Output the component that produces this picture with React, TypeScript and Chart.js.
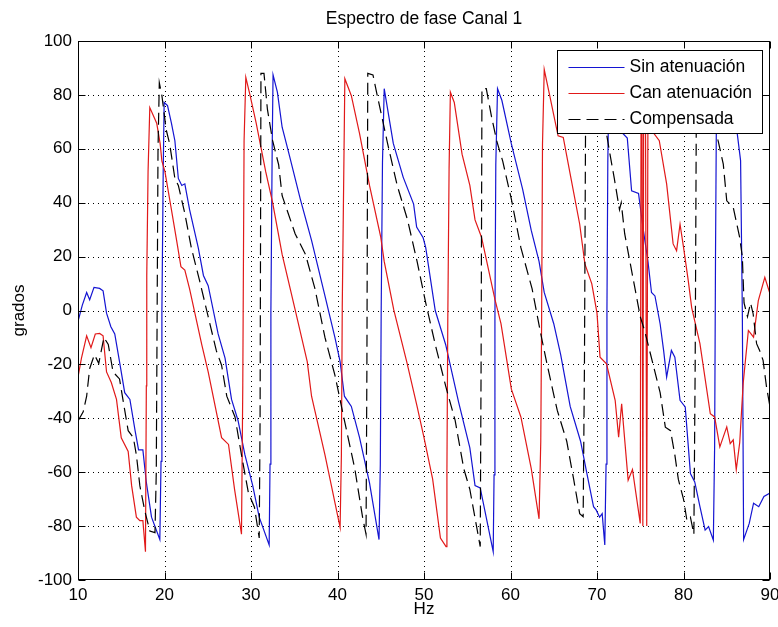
import { useEffect, useRef } from "react";
import { Chart, registerables } from "chart.js";

Chart.register(...registerables);

// ---- data (Hz, grados) ----
const titleText = "Espectro de fase Canal 1";
const xLabel = "Hz";
const yLabel = "grados";
const seriesNames = ["Sin atenuación", "Can atenuación", "Compensada"];

const xTickValues = [10, 20, 30, 40, 50, 60, 70, 80, 90];
const yTickValues = [-100, -80, -60, -40, -20, 0, 20, 40, 60, 80, 100];

const sinHz = [10, 10.5, 11, 11.35, 11.85, 12.5, 12.9, 13.3, 13.8, 14.25, 14.8, 15.4, 16, 16.6, 17, 17.5, 17.9, 18.5, 19.46, 19.6, 19.7, 19.85, 19.96, 20.35, 20.8, 21.2, 21.6, 22, 22.35, 22.9, 23.9, 24.5, 25.05, 26.2, 27, 27.75, 28.5, 29.3, 30.2, 30.95, 32.1, 32.2, 32.3, 32.45, 32.55, 33.05, 33.6, 34.4, 35.7, 37, 38.55, 39.7, 40.3, 40.8, 41.6, 42.55, 43.7, 44.8, 44.95, 45.05, 45.2, 45.4, 46.45, 47.6, 48.8, 49.15, 49.9, 50.2, 51.3, 52.5, 54, 55.3, 55.9, 56.5, 58, 58.1, 58.2, 58.3, 58.5, 59, 60.1, 61.4, 62.4, 63.3, 63.9, 65, 65.8, 66.9, 68.1, 68.8, 69.6, 69.9, 70.3, 70.6, 70.9, 71.05, 71.15, 71.25, 71.4, 72.2, 72.9, 73.5, 74, 74.8, 75.35, 75.9, 76.3, 76.7, 77.3, 77.7, 78.05, 78.6, 79, 79.6, 80.2, 80.8, 81.3, 81.9, 82.5, 82.9, 83.45, 83.6, 83.7, 83.8, 84, 85, 86.2, 86.6, 86.8, 86.95, 87.6, 88.1, 88.7, 89.3, 90];
const sinDeg = [-4, 2, 6.7, 4, 8.6, 8.2, 7.3, -1, -6, -8.7, -19, -30.5, -33, -44.6, -51.7, -51.7, -63.8, -76.7, -85, -56, 0, 51.5, 77.2, 76, 69.5, 63, 49, 46.4, 47, 37.4, 23.3, 13, 9.2, -8.7, -17.7, -33, -40.8, -53.6, -65, -76.7, -87, -57, 0, 60.5, 87.4, 81, 68, 58, 41.3, 26, 5.4, -10, -19, -31.8, -35.6, -47.2, -64, -85, -57, 0, 55, 82.3, 62, 49.4, 39.5, 31, 27, 23.3, 0, -12.6, -34, -51, -65, -65.8, -89.5, -61, -3.6, 54, 82.3, 78, 61.8, 45, 29.7, 18.2, 6.7, -4.9, -16.4, -35.6, -48.5, -60, -72.8, -74, -76.7, -75.4, -87, -57, 0, 55, 88, 78, 66, 64, 44.4, 43.4, 30, 18, 6.7, 5.4, -5, -14.8, -24.7, -14.8, -17.3, -33.3, -35.8, -60.5, -63.6, -72.8, -81.5, -80.2, -85.2, -50, 20, 70, 86, 78, 66, 55.6, 0, -85, -79, -71.5, -72.8, -69, -67.7];

const canHz = [10, 10.4, 11, 11.5, 12, 12.5, 12.9, 13.3, 13.85, 14.45, 15, 15.8, 16.2, 16.75, 17.15, 17.5, 17.8, 17.9, 17.95, 18.1, 18.3, 19.1, 19.5, 19.7, 20.05, 20.8, 21.4, 21.9, 22.35, 22.9, 24.3, 25.05, 26.6, 27.4, 28.1, 28.9, 29.05, 29.2, 29.4, 29.9, 30.6, 31.7, 32.5, 33.6, 35.1, 36.5, 37, 38.55, 40.3, 40.45, 40.55, 40.85, 41.6, 42.55, 43.7, 45, 45.4, 46.5, 48, 49.2, 50, 51, 51.9, 52.55, 52.65, 52.75, 52.9, 53.05, 53.5, 54.4, 55.3, 55.9, 56.65, 58.2, 58.9, 60.1, 61.2, 62.4, 63.3, 63.5, 63.6, 63.7, 63.9, 64.45, 65.5, 66.1, 66.9, 68, 68.6, 69.4, 70, 70.35, 71.1, 72.1, 72.5, 72.85, 73.6, 74.1, 75, 75.1, 75.2, 75.3, 75.4, 75.6, 75.75, 75.9, 76.5, 77.2, 78.05, 78.8, 79.2, 79.6, 80, 80.55, 80.95, 81.9, 83.1, 83.6, 84.2, 85, 85.4, 85.75, 86.1, 86.5, 86.9, 87.5, 88.1, 88.65, 89.4, 90];
const canDeg = [-24.7, -17.7, -9.4, -13.8, -8.7, -8.5, -9.4, -22.8, -26.7, -33, -47.2, -52.3, -65, -76.7, -78, -78, -89.5, -28, 13, 51.5, 75.3, 69.5, 61.8, 55.4, 51.5, 37.4, 26, 16.3, 15, 8, -12.6, -22.8, -47.2, -49.7, -66.4, -83, -28, 63, 86.5, 79.7, 69.5, 51.5, 40, 20.8, 0.3, -19, -31.8, -53.6, -80.5, -53.6, 1.5, 86, 79.7, 65.6, 46.4, 27.2, 18.2, 0.3, -19, -35.6, -47.2, -62.6, -84.4, -87.6, -60, -3.6, 52.8, 81, 77.2, 58, 46.4, 33.6, 27.2, 4.1, -4.9, -29.2, -39.5, -58.7, -77.3, -48.5, -2.3, 61.8, 89.4, 81, 64.8, 64.2, 50.6, 32, 17.3, 9.9, -1, -17.3, -19.8, -33.3, -47, -34.6, -63, -59, -79, 85, 83, -80, 84, 80, -80, 86, 66, 63, 47, 24.7, 22.2, 32, 23.5, 11.1, 1, -12.3, -38.3, -39.5, -50.6, -43.2, -49.4, -48, -59, -49, -27, -7.4, -9.9, 3.7, 12.3, 6.2];

const compHz = [10, 10.6, 11, 11.35, 11.9, 12.4, 13, 13.5, 14.05, 14.8, 15.4, 15.8, 16.4, 16.75, 17.15, 17.7, 18.3, 18.9, 19.05, 19.15, 19.25, 19.4, 19.7, 20.2, 20.6, 21.2, 21.6, 22.35, 23.1, 24.1, 25.05, 26, 26.6, 27.2, 28.15, 28.9, 29.7, 30.4, 30.95, 31.05, 31.15, 31.5, 31.9, 32.5, 33.2, 33.6, 35.1, 36.3, 37.4, 38.55, 39.7, 40.8, 42, 42.9, 43.3, 43.4, 43.5, 44.1, 44.6, 45.2, 45.8, 46.9, 48.1, 49.2, 50.2, 51.3, 52.5, 53.6, 54.6, 55.3, 56.5, 56.6, 56.7, 57.2, 57.8, 58.4, 59.1, 60.1, 61.2, 62.5, 63.5, 64.25, 65.4, 66.5, 67.3, 68, 68.4, 68.55, 68.7, 70, 70.9, 71.1, 71.5, 72, 72.6, 72.8, 73.2, 73.8, 74.4, 75, 75.5, 76.1, 76.7, 77.3, 77.9, 78.5, 79, 79.4, 80, 80.4, 80.8, 81.2, 81.35, 81.5, 82.5, 83.5, 84, 84.6, 85, 85.75, 86.5, 86.8, 87, 87.4, 87.75, 88.05, 88.45, 88.8, 89.2, 89.6, 90];
const compDeg = [-41, -37.6, -31.8, -21.5, -16.4, -19.6, -10, -12.6, -22.8, -25.4, -37, -44.6, -47.2, -53.6, -65, -74, -81.8, -82.4, -60, 0, 60, 84.5, 79.7, 67, 61.8, 49, 46.4, 36, 23.3, 10.5, -2.3, -15, -20.3, -31.8, -39.5, -53.6, -67.7, -73, -84.4, -40, 88, 88, 74.6, 63, 54, 42.6, 28.5, 20.8, 8, -10, -24, -40.8, -58.7, -76.7, -83, -20, 88, 87.4, 79.7, 70.8, 61.8, 46.4, 33.6, 18.2, 2.8, -12.6, -28, -40.8, -58.7, -66.4, -87.6, -20, 82.3, 82.3, 72, 63, 55.4, 41.3, 23.3, 8, -8.7, -20.3, -37, -48.5, -62.6, -75.4, -76.5, -20, 85, 80, 70, 65.6, 58, 49, 37.4, 40, 28.5, 18.2, 8, -2.3, -7.4, -15.1, -22.8, -30.5, -43.3, -44.6, -53.6, -62.6, -70, -78, -76.7, -83, -20, 86, 84, 72, 63, 54.3, 40.7, 38.3, 27, 20, 2.8, -2.3, 2.8, -1.2, -12.3, -14.8, -18.5, -28.4, -35.8];

// ---- styling ----
const FONT = '"Liberation Sans", Arial, Helvetica, sans-serif';
const BLUE = "rgb(20,20,210)";
const RED = "rgb(225,25,25)";
const BLACK = "#000";
const DASH = [12, 6];
const LINE_W = 1.2;

const toPoints = (xs: number[], ys: number[]) => xs.map((x, i) => ({ x, y: ys[i] }));

const matlabPlugin = {
  id: "matlabAxes",
  beforeDatasetsDraw(chart: any) {
    const { ctx, chartArea: a, scales } = chart;
    const xs = scales.x;
    const ys = scales.y;
    ctx.save();
    ctx.strokeStyle = "#000";
    ctx.lineWidth = 1;
    ctx.setLineDash([1, 4]);
    for (const v of xTickValues) {
      if (v === xTickValues[0] || v === xTickValues[xTickValues.length - 1]) continue;
      const px = Math.round(xs.getPixelForValue(v)) + 0.5;
      ctx.beginPath();
      ctx.moveTo(px, a.top);
      ctx.lineTo(px, a.bottom);
      ctx.stroke();
    }
    for (const v of yTickValues) {
      if (v === yTickValues[0] || v === yTickValues[yTickValues.length - 1]) continue;
      const py = Math.round(ys.getPixelForValue(v)) + 0.5;
      ctx.beginPath();
      ctx.moveTo(a.left, py);
      ctx.lineTo(a.right, py);
      ctx.stroke();
    }
    ctx.restore();
  },
  afterDatasetsDraw(chart: any) {
    const { ctx, chartArea: a, scales } = chart;
    const xs = scales.x;
    const ys = scales.y;
    const L = Math.round(a.left) + 0.5;
    const R = Math.round(a.right) - 0.5;
    const T = Math.round(a.top) + 0.5;
    const B = Math.round(a.bottom) - 0.5;
    const tick = 7;
    ctx.save();
    ctx.setLineDash([]);
    ctx.strokeStyle = "#000";
    ctx.lineWidth = 1;
    ctx.strokeRect(L, T, R - L, B - T);
    ctx.beginPath();
    for (const v of xTickValues) {
      const px = Math.round(xs.getPixelForValue(v)) + 0.5;
      ctx.moveTo(px, B);
      ctx.lineTo(px, B - tick);
      ctx.moveTo(px, T);
      ctx.lineTo(px, T + tick);
    }
    for (const v of yTickValues) {
      const py = Math.round(ys.getPixelForValue(v)) + 0.5;
      ctx.moveTo(L, py);
      ctx.lineTo(L + tick, py);
      ctx.moveTo(R, py);
      ctx.lineTo(R - tick, py);
    }
    ctx.stroke();

    // legend (inside, top-right, MATLAB style)
    const lw = 205;
    const lh = 83;
    const lx = Math.round(a.right) - 8 - lw + 0.5;
    const ly = Math.round(a.top) + 9 + 0.5;
    ctx.fillStyle = "#fff";
    ctx.fillRect(lx, ly, lw, lh);
    ctx.strokeRect(lx, ly, lw, lh);
    const colors = [BLUE, RED, BLACK];
    const dashes = [[], [], DASH];
    ctx.font = `17.5px ${FONT}`;
    ctx.textBaseline = "middle";
    ctx.textAlign = "left";
    seriesNames.forEach((name, i) => {
      const yy = Math.round(ly + 16.5 + i * 25.8) + 0.5;
      ctx.strokeStyle = colors[i];
      ctx.lineWidth = LINE_W;
      ctx.setLineDash(dashes[i]);
      ctx.beginPath();
      ctx.moveTo(lx + 11, yy);
      ctx.lineTo(lx + 67, yy);
      ctx.stroke();
      ctx.fillStyle = "#000";
      ctx.fillText(name, lx + 72, yy);
    });
    ctx.restore();
  },
};

export default function App() {
  const ref = useRef<HTMLCanvasElement | null>(null);

  useEffect(() => {
    document.body.style.margin = "0";
    const canvas = ref.current;
    if (!canvas) return;
    const chart = new Chart(canvas, {
      type: "line",
      data: {
        datasets: [
          {
            label: seriesNames[0],
            data: toPoints(sinHz, sinDeg),
            borderColor: BLUE,
            borderWidth: LINE_W,
            pointRadius: 0,
            tension: 0,
            fill: false,
            order: 2,
          },
          {
            label: seriesNames[1],
            data: toPoints(canHz, canDeg),
            borderColor: RED,
            borderWidth: LINE_W,
            pointRadius: 0,
            tension: 0,
            fill: false,
            order: 1,
          },
          {
            label: seriesNames[2],
            data: toPoints(compHz, compDeg),
            borderColor: BLACK,
            borderWidth: LINE_W,
            borderDash: DASH,
            pointRadius: 0,
            tension: 0,
            fill: false,
            order: 0,
          },
        ],
      },
      options: {
        animation: false,
        responsive: false,
        devicePixelRatio: 1,
        layout: { padding: { left: 0, right: 8, top: 0, bottom: 0 } },
        plugins: {
          legend: { display: false },
          tooltip: { enabled: false },
          title: {
            display: true,
            text: titleText,
            fullSize: false,
            color: "#000",
            font: { family: FONT, size: 17.5, weight: "normal", lineHeight: 1.2 },
            padding: { top: 9, bottom: 11 },
          },
        },
        scales: {
          x: {
            type: "linear",
            min: 10,
            max: 90,
            afterBuildTicks: (s: any) => {
              s.ticks = xTickValues.map((v) => ({ value: v }));
            },
            afterFit: (s: any) => {
              s.height = 47;
              s.paddingLeft = 0;
              s.paddingRight = 0;
            },
            grid: { display: false, drawTicks: false },
            border: { display: false },
            ticks: {
              color: "#000",
              font: { family: FONT, size: 17 },
              padding: 5,
              maxRotation: 0,
              autoSkip: false,
              callback: (v: any) => String(v),
            },
            title: {
              display: true,
              text: xLabel,
              color: "#000",
              font: { family: FONT, size: 17 },
              padding: { top: 0, bottom: 7 },
            },
          },
          y: {
            type: "linear",
            min: -100,
            max: 100,
            afterBuildTicks: (s: any) => {
              s.ticks = yTickValues.map((v) => ({ value: v }));
            },
            afterFit: (s: any) => {
              s.width = 78;
              s.paddingTop = 0;
              s.paddingBottom = 0;
            },
            grid: { display: false, drawTicks: false },
            border: { display: false },
            ticks: {
              color: "#000",
              font: { family: FONT, size: 17 },
              padding: 6,
              autoSkip: false,
              callback: (v: any) => String(v),
            },
            title: {
              display: true,
              text: yLabel,
              color: "#000",
              font: { family: FONT, size: 17 },
              padding: { top: 9, bottom: 0 },
            },
          },
        },
      },
      plugins: [matlabPlugin],
    } as any);
    return () => chart.destroy();
  }, []);

  return (
    <div style={{ position: "fixed", left: 0, top: 0, width: 778, height: 627, background: "#fff" }}>
      <canvas ref={ref} width={778} height={627} style={{ display: "block" }} />
    </div>
  );
}
